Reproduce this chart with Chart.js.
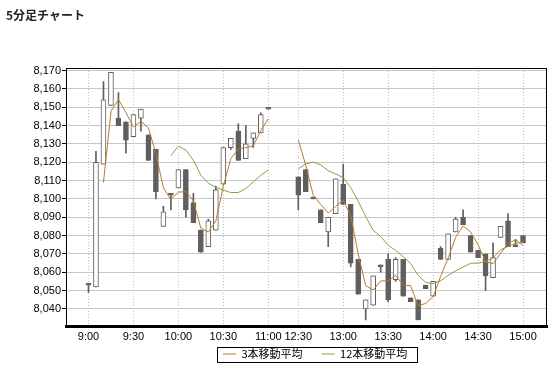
<!DOCTYPE html>
<html>
<head>
<meta charset="utf-8">
<script src="https://cdn.jsdelivr.net/npm/chart.js@4.4.1/dist/chart.umd.min.js"></script>
<style>
    html, body { margin: 0; padding: 0; background: #fff; }
    #wrap { position: relative; width: 557px; height: 365px; }
    #chart { position: absolute; left: 0; top: 0; }
    #title {
        position: absolute; left: 6px; top: 6px;
        font: bold 12px "Noto Sans CJK JP", sans-serif; color: #222;
    }
</style>
</head>
<body>
<div id="wrap">
    <canvas id="chart" width="557" height="365"></canvas>
    <div id="title">5分足チャート</div>
</div>
<script>
// 5分足 (空白3本 = 昼休み)
const times = [
    '9:00', '9:05', '9:10', '9:15', '9:20', '9:25', '9:30', '9:35', '9:40', '9:45', '9:50', '9:55',
    '10:00', '10:05', '10:10', '10:15', '10:20', '10:25', '10:30', '10:35', '10:40', '10:45', '10:50', '10:55',
    '11:00', '', '', '',
    '12:30', '12:35', '12:40', '12:45', '12:50', '12:55',
    '13:00', '13:05', '13:10', '13:15', '13:20', '13:25', '13:30', '13:35', '13:40', '13:45', '13:50', '13:55',
    '14:00', '14:05', '14:10', '14:15', '14:20', '14:25', '14:30', '14:35', '14:40', '14:45', '14:50', '14:55',
    '15:00'
];
const opens = [
    8054, 8052, 8119, 8151, 8144, 8142, 8134, 8144, 8135, 8127, 8085, 8103,
    8106, 8116, 8098, 8083, 8074, 8083, 8108, 8128, 8137, 8122, 8133, 8136,
    8150, null, null, null,
    8112, 8116, 8101, 8094, 8082, 8092,
    8108, 8097, 8067, 8040, 8042, 8064, 8067, 8056, 8067, 8046, 8045, 8053,
    8047, 8073, 8067, 8082, 8090, 8080, 8072, 8070, 8057, 8079, 8088, 8075,
    8080
];
const highs = [
    8054, 8126, 8164, 8169, 8158, 8142, 8146, 8149, 8135, 8127, 8096, 8103,
    8116, 8116, 8103, 8083, 8089, 8107, 8128, 8133, 8141, 8140, 8136, 8147,
    8150, null, null, null,
    8112, 8116, 8101, 8094, 8090, 8111,
    8119, 8097, 8067, 8045, 8058, 8064, 8070, 8068, 8067, 8046, 8045, 8053,
    8055, 8074, 8081, 8090, 8094, 8080, 8072, 8070, 8076, 8085, 8092, 8078,
    8080
];
const lows = [
    8049, 8052, 8119, 8151, 8140, 8125, 8134, 8137, 8121, 8100, 8085, 8094,
    8106, 8090, 8087, 8071, 8074, 8083, 8108, 8127, 8121, 8122, 8128, 8136,
    8149, null, null, null,
    8094, 8104, 8100, 8087, 8074, 8092,
    8097, 8063, 8048, 8034, 8042, 8060, 8044, 8055, 8047, 8044, 8034, 8051,
    8047, 8067, 8067, 8082, 8086, 8071, 8068, 8050, 8057, 8079, 8074, 8074,
    8076
];
const closes = [
    8053, 8120, 8154, 8169, 8140, 8132, 8146, 8149, 8121, 8104, 8093, 8102,
    8116, 8094, 8087, 8071, 8088, 8105, 8128, 8133, 8121, 8130, 8136, 8146,
    8149, null, null, null,
    8102, 8104, 8100, 8087, 8090, 8111,
    8097, 8065, 8048, 8045, 8058, 8063, 8045, 8067, 8047, 8044, 8034, 8051,
    8055, 8067, 8081, 8089, 8086, 8071, 8068, 8058, 8068, 8085, 8074, 8074,
    8076
];
const ma3 = [
    null, null, 8109, 8147.7, 8154.3, 8147, 8139.3, 8142.3, 8138.7, 8124.7, 8106, 8099.7,
    8103.7, 8104, 8099, 8084, 8082, 8088, 8107, 8122, 8127.3, 8128, 8129, 8137.3,
    8143.7, null, null, null,
    8132.3, 8118.3, 8102, 8097, 8092.3, 8096,
    8099.3, 8091, 8070, 8052.7, 8050.3, 8055.3, 8055.3, 8058.3, 8053, 8052.7, 8041.7, 8043,
    8046.7, 8057.7, 8067.7, 8079, 8085.3, 8082, 8075, 8065.7, 8064.7, 8070.3, 8075.7, 8077.7,
    8074.7
];
const ma12 = [
    null, null, null, null, null, null, null, null, null, null, null, 8123.6,
    8128.8, 8126.7, 8121.1, 8112.9, 8108.6, 8106.3, 8104.8, 8103.5, 8103.5, 8105.7, 8109.3, 8112.9,
    8115.7, null, null, null,
    8116.3, 8119.1, 8120.1, 8118.6, 8115.4, 8113.6,
    8111.6, 8106.2, 8098.8, 8090.4, 8082.8, 8079.6, 8074.7, 8071.9, 8068.6, 8064.8, 8058.3, 8054.5,
    8053.7, 8055.3, 8058.3, 8060.8, 8062.8, 8064.9, 8065, 8065.9, 8067.9, 8072.2, 8074.1, 8075.7,
    8076.4
];
const xTickLabels = ['9:00', '9:30', '10:00', '10:30', '11:00', '12:30', '13:00', '13:30', '14:00', '14:30', '15:00'];
const yTicks = [8040, 8050, 8060, 8070, 8080, 8090, 8100, 8110, 8120, 8130, 8140, 8150, 8160, 8170];

const candleColor = '#5f5f5f';
const ma3Color = '#b97a26';
const ma12Color = '#8f9f40';

// 凡例の位置 (枠つき)
const legendItemsX = 223;
const legendItemsY = 348.5;

Chart.defaults.font.family = '"Liberation Sans", Arial, sans-serif';
Chart.defaults.font.size = 11;
Chart.defaults.color = '#000';

const candleIdx = times.map((t, i) => i).filter(i => opens[i] !== null);
const wickData = candleIdx.map(i => ({ x: i, y: [lows[i], highs[i]] }));
const bodyData = candleIdx.map(i => ({ x: i, y: [opens[i], closes[i]] }));
const bodyFill = candleIdx.map(i => closes[i] < opens[i] ? candleColor : '#ffffff');

const framePlugin = {
    id: 'frame',
    beforeLayout(chart) {
        // 凡例の高さを固定
        const lg = chart.legend;
        if (lg && !lg._fixedFit) {
            const fit = lg.fit;
            lg.fit = function() {
                fit.call(this);
                this.height = 22;
            };
            lg._fixedFit = true;
        }
    },
    afterLayout(chart) {
        const lg = chart.legend;
        const pad = lg.options.labels.padding;
        const x0 = (lg.left + pad + lg.right - lg.lineWidths[0]) / 2;
        const dx = legendItemsX - x0;
        const dy = legendItemsY - (lg.top + pad);
        lg.left += dx;
        lg.right += dx;
        lg.top += dy;
        lg.bottom = chart.height;
        lg.height = lg.bottom - lg.top;
    },
    afterDraw(chart) {
        const { ctx, chartArea } = chart;
        ctx.save();
        ctx.strokeStyle = '#000';
        ctx.lineWidth = 1;
        ctx.beginPath();
        ctx.moveTo(chartArea.left, Math.round(chartArea.top) + 0.5);
        ctx.lineTo(chartArea.right, Math.round(chartArea.top) + 0.5);
        ctx.moveTo(Math.round(chartArea.right) - 0.5, chartArea.top);
        ctx.lineTo(Math.round(chartArea.right) - 0.5, chartArea.bottom);
        ctx.stroke();

        const hb = chart.legend.legendHitBoxes;
        if (hb && hb.length) {
            const first = hb[0];
            const last = hb[hb.length - 1];
            const x1 = Math.round(first.left - 6);
            const x2 = Math.round(last.left + last.width + 10);
            const y1 = Math.round(first.top - 2);
            const y2 = Math.round(first.top + first.height + 2);
            ctx.strokeRect(x1 + 0.5, y1 + 0.5, x2 - x1, y2 - y1);
        }
        ctx.restore();
    }
};

new Chart(document.getElementById('chart'), {
    type: 'bar',
    data: {
        datasets: [
            {
                type: 'line',
                label: '3本移動平均',
                data: times.map((t, i) => ({ x: i, y: ma3[i] })),
                borderColor: ma3Color,
                backgroundColor: ma3Color,
                borderWidth: 1,
                pointRadius: 0,
                tension: 0
            },
            {
                type: 'line',
                label: '12本移動平均',
                data: times.map((t, i) => ({ x: i, y: ma12[i] })),
                borderColor: ma12Color,
                backgroundColor: ma12Color,
                borderWidth: 1,
                pointRadius: 0,
                tension: 0
            },
            {
                label: 'body',
                data: bodyData,
                backgroundColor: bodyFill,
                borderColor: candleColor,
                borderWidth: 1,
                borderSkipped: false,
                barThickness: 5,
                grouped: false
            },
            {
                label: 'wick',
                data: wickData,
                backgroundColor: candleColor,
                borderWidth: 0,
                barThickness: 1,
                grouped: false
            }
        ]
    },
    options: {
        responsive: false,
        animation: false,
        events: [],
        layout: { padding: { top: 68, right: 10, bottom: 0, left: 0 } },
        plugins: {
            tooltip: { enabled: false },
            legend: {
                position: 'bottom',
                labels: {
                    filter: item => item.datasetIndex < 2,
                    usePointStyle: true,
                    pointStyle: 'line',
                    pointStyleWidth: 13,
                    padding: 19,
                    color: '#000',
                    font: { family: '"Noto Sans CJK JP", sans-serif', size: 11 }
                }
            }
        },
        scales: {
            x: {
                type: 'linear',
                min: -3,
                max: 61.2,
                offset: false,
                afterFit: scale => { scale.height = 17; },
                afterBuildTicks: scale => {
                    scale.ticks = xTickLabels.map(l => ({ value: times.indexOf(l) }));
                },
                ticks: {
                    autoSkip: false,
                    maxRotation: 0,
                    padding: 4,
                    callback: v => times[v]
                },
                grid: { color: '#c0c0c0', drawTicks: false, offset: false },
                border: { color: '#000', width: 3, dash: [1, 2] }
            },
            y: {
                min: 8030.7,
                max: 8171.4,
                afterFit: scale => { scale.width = 66; },
                afterBuildTicks: scale => {
                    scale.ticks = yTicks.map(v => ({ value: v }));
                },
                ticks: {
                    padding: 1,
                    callback: v => v.toLocaleString('en-US')
                },
                grid: { color: '#c8c8c8', tickColor: '#000', tickLength: 4 },
                border: { color: '#000', width: 1 }
            }
        }
    },
    plugins: [framePlugin]
});
</script>
</body>
</html>
